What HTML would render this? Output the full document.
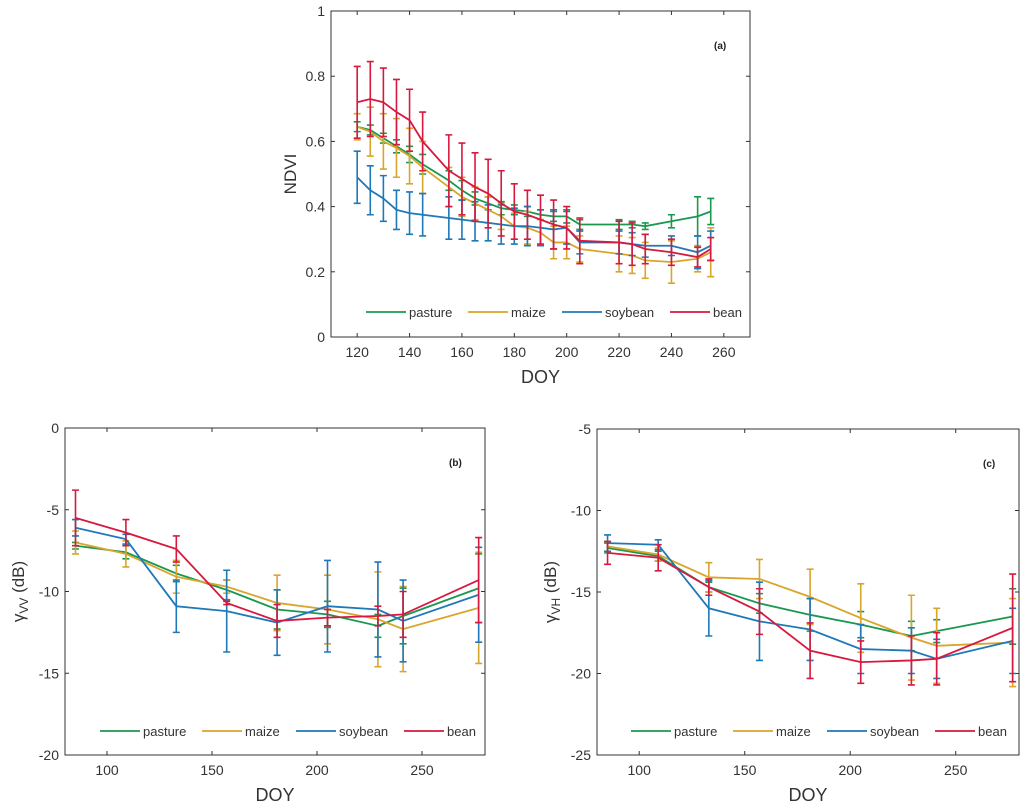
<!DOCTYPE html>
<html><head><meta charset="utf-8"><style>
html,body{margin:0;padding:0;background:#fff;}
svg{display:block;font-family:"Liberation Sans",sans-serif;}
</style></head><body>
<svg id="fig" width="1024" height="809" viewBox="0 0 1024 809"></svg>
<script>
const seriesNames=["pasture","maize","soybean","bean"];
const colors=["#1a9850","#d9a52a","#1f78b8","#d7193f"];
// Panel (a) NDVI
const doyA=[120,125,130,135,140,145,155,160,165,170,175,180,185,190,195,200,205,220,225,230,240,250,255];
const ndviPasture=[.645,.635,.61,.585,.56,.53,.48,.45,.425,.41,.395,.39,.385,.375,.37,.37,.345,.345,.345,.34,.355,.37,.385];
const ndviPastureErr=[.015,.015,.015,.02,.025,.03,.03,.03,.02,.02,.02,.015,.015,.015,.015,.02,.015,.015,.01,.01,.02,.06,.04];
const ndviMaize=[.645,.63,.60,.58,.555,.52,.46,.43,.41,.39,.37,.34,.335,.32,.29,.29,.27,.255,.25,.235,.23,.24,.26];
const ndviMaizeErr=[.04,.075,.085,.09,.085,.08,.06,.06,.05,.04,.04,.04,.05,.04,.05,.05,.04,.055,.055,.055,.065,.04,.075];
const ndviSoy=[.49,.45,.425,.39,.38,.375,.365,.36,.355,.35,.345,.34,.34,.335,.33,.335,.29,.29,.285,.28,.28,.26,.28];
const ndviSoyErr=[.08,.075,.07,.06,.065,.065,.065,.06,.06,.055,.06,.055,.06,.055,.06,.05,.035,.035,.035,.035,.03,.05,.045];
const ndviBean=[.72,.73,.72,.69,.665,.6,.51,.485,.46,.44,.41,.385,.375,.36,.345,.335,.295,.29,.285,.27,.26,.245,.27];
const ndviBeanErr=[.11,.115,.105,.10,.095,.09,.11,.11,.105,.105,.10,.085,.075,.075,.075,.065,.07,.065,.065,.045,.04,.03,.035];
const xTicksA=[120,140,160,180,200,220,240,260];
const yTicksA=[0,0.2,0.4,0.6,0.8,1];
const yTickLabelsA=["0","0.2","0.4","0.6","0.8","1"];
// Panels (b),(c)
const doyB=[85,109,133,157,181,205,229,241,277];
const vvPasture=[-7.2,-7.6,-8.9,-9.9,-11.1,-11.4,-12.1,-11.5,-9.8];
const vvPastureErr=[.2,.4,.5,.6,1.2,.8,.7,1.7,2.1];
const vvMaize=[-7.0,-7.7,-9.1,-9.7,-10.7,-11.1,-11.7,-12.3,-11.0];
const vvMaizeErr=[.7,.8,1.0,.4,1.7,2.1,2.9,2.6,3.4];
const vvSoy=[-6.1,-6.8,-10.9,-11.2,-11.9,-10.9,-11.1,-11.8,-10.2];
const vvSoyErr=[.5,.3,1.6,2.5,2.0,2.8,2.9,2.5,2.9];
const vvBean=[-5.5,-6.4,-7.4,-10.7,-11.8,-11.6,-11.5,-11.4,-9.3];
const vvBeanErr=[1.7,.8,.8,.1,1.0,.5,.6,1.4,2.6];
const vhPasture=[-12.3,-12.8,-14.7,-15.7,-16.4,-17.0,-17.7,-17.4,-16.5];
const vhPastureErr=[.3,.3,.3,.6,1.0,.8,.9,.7,1.7];
const vhMaize=[-12.2,-12.7,-14.1,-14.2,-15.3,-16.6,-17.8,-18.3,-18.1];
const vhMaizeErr=[.3,.4,.9,1.2,1.7,2.1,2.6,2.3,2.7];
const vhSoy=[-12.0,-12.1,-16.0,-16.8,-17.3,-18.5,-18.6,-19.1,-18.0];
const vhSoyErr=[.5,.3,1.7,2.4,1.9,1.5,1.4,1.2,2.0];
const vhBean=[-12.6,-12.9,-14.7,-16.2,-18.6,-19.3,-19.2,-19.1,-17.2];
const vhBeanErr=[.7,.8,.5,1.4,1.7,1.3,1.5,1.6,3.3];
const xTicksB=[100,150,200,250];
const yTicksB=[-20,-15,-10,-5,0];
const yTicksC=[-25,-20,-15,-10,-5];

const svg=document.getElementById('fig');
const NS="http://www.w3.org/2000/svg";
function mk(tag,attrs,parent){const e=document.createElementNS(NS,tag);for(const k in attrs)e.setAttribute(k,attrs[k]);(parent||svg).appendChild(e);return e;}

function panel(cfg){
  const g=mk('g',{});
  
  
  const sx=v=>cfg.x0+(v-cfg.xmin)/(cfg.xmax-cfg.xmin)*(cfg.x1-cfg.x0);
  const sy=v=>cfg.y1-(v-cfg.ymin)/(cfg.ymax-cfg.ymin)*(cfg.y1-cfg.y0);
  const box=mk('rect',{x:cfg.x0,y:cfg.y0,width:cfg.x1-cfg.x0,height:cfg.y1-cfg.y0,fill:'none',stroke:'#333','stroke-width':1},g);
  
  
  cfg.xt.forEach(t=>{
    const x=sx(t);
    mk('line',{x1:x,x2:x,y1:cfg.y1,y2:cfg.y1-4,stroke:'#333'},g);
    mk('line',{x1:x,x2:x,y1:cfg.y0,y2:cfg.y0+4,stroke:'#333'},g);
    const tx=mk('text',{x:x,y:cfg.y1+20,'text-anchor':'middle','font-size':14,fill:'#333'},g);
    tx.textContent=t;
    
    
  });
  cfg.yt.forEach((t,i)=>{
    const y=sy(t);
    mk('line',{x1:cfg.x0,x2:cfg.x0+4,y1:y,y2:y,stroke:'#333'},g);
    mk('line',{x1:cfg.x1,x2:cfg.x1-4,y1:y,y2:y,stroke:'#333'},g);
    const tx=mk('text',{x:cfg.x0-6,y:y+5,'text-anchor':'end','font-size':14,fill:'#333'},g);
    tx.textContent=cfg.ytl?cfg.ytl[i]:t;
    
    
  });
  const xl=mk('text',{x:(cfg.x0+cfg.x1)/2,y:cfg.y1+46,'text-anchor':'middle','font-size':18,fill:'#333'},g);
  xl.textContent='DOY';
  
  
  const yl=mk('text',{transform:`translate(${cfg.ylx},${(cfg.y0+cfg.y1)/2}) rotate(-90)`,'text-anchor':'middle','font-size':17,fill:'#333'},g);
  yl.innerHTML=cfg.ylab;
  
  
  const pl=mk('text',{x:cfg.x1-36,y:cfg.y0+38,'font-size':10,'font-weight':'bold',fill:'#222'},g);
  pl.textContent=cfg.label;
  
  
  cfg.series.forEach((s,k)=>{
    const sg=mk('g',{},g);
    
    
    s.v.forEach((v,i)=>{
      const x=sx(cfg.xs[i]),ya=sy(v+s.e[i]),yb=sy(v-s.e[i]);
      const eb=mk('path',{d:`M${x},${ya}V${yb}M${x-3.5},${ya}H${x+3.5}M${x-3.5},${yb}H${x+3.5}`,stroke:colors[k],'stroke-width':1.6,fill:'none'},sg);
      
      
    });
    const ln=mk('polyline',{points:s.v.map((v,i)=>sx(cfg.xs[i])+','+sy(v)).join(' '),fill:'none',stroke:colors[k],'stroke-width':1.8},sg);
    
    
  });
  const lg=mk('g',{},g);
  
  
  const widths=[102,94,108,60];
  let lx=cfg.legX;
  seriesNames.forEach((n,k)=>{
    const e=mk('g',{},lg);
    
    
    mk('line',{x1:lx,x2:lx+40,y1:cfg.legY,y2:cfg.legY,stroke:colors[k],'stroke-width':1.8},e);
    const t=mk('text',{x:lx+43,y:cfg.legY+5,'font-size':13,fill:'#333'},e);
    t.textContent=n;
    lx+=widths[k];
  });
}

panel({name:'ndvi-chart',x0:331,x1:750,y0:11,y1:337,xmin:110,xmax:270,ymin:0,ymax:1,xt:xTicksA,yt:yTicksA,ytl:yTickLabelsA,
  ylab:'NDVI',ylx:296,label:'(a)',legX:366,legY:312,xs:doyA,
  series:[{v:ndviPasture,e:ndviPastureErr},{v:ndviMaize,e:ndviMaizeErr},{v:ndviSoy,e:ndviSoyErr},{v:ndviBean,e:ndviBeanErr}]});
panel({name:'vv-chart',x0:65,x1:485,y0:428,y1:755,xmin:80,xmax:280,ymin:-20,ymax:0,xt:xTicksB,yt:yTicksB,
  ylab:'γ<tspan font-size="12" dy="4">VV</tspan><tspan dy="-4"> (dB)</tspan>',ylx:24,label:'(b)',legX:100,legY:731,xs:doyB,
  series:[{v:vvPasture,e:vvPastureErr},{v:vvMaize,e:vvMaizeErr},{v:vvSoy,e:vvSoyErr},{v:vvBean,e:vvBeanErr}]});
panel({name:'vh-chart',x0:597,x1:1019,y0:429,y1:755,xmin:80,xmax:280,ymin:-25,ymax:-5,xt:xTicksB,yt:yTicksC,
  ylab:'γ<tspan font-size="12" dy="4">VH</tspan><tspan dy="-4"> (dB)</tspan>',ylx:556,label:'(c)',legX:631,legY:731,xs:doyB,
  series:[{v:vhPasture,e:vhPastureErr},{v:vhMaize,e:vhMaizeErr},{v:vhSoy,e:vhSoyErr},{v:vhBean,e:vhBeanErr}]});
</script>
</body></html>
